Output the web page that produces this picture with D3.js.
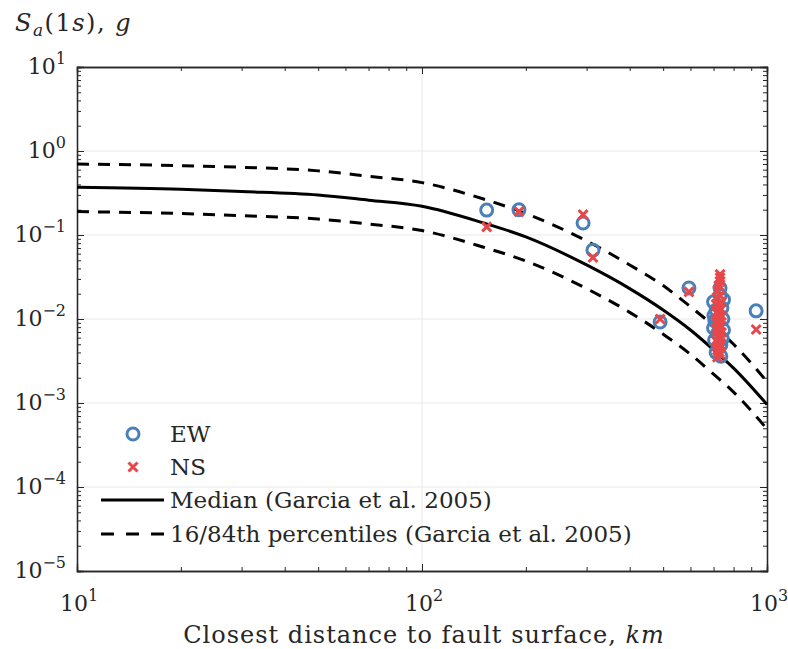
<!DOCTYPE html>
<html>
<head>
<meta charset="utf-8">
<script src="https://cdn.jsdelivr.net/npm/d3@7"></script>
<style>
  body { margin: 0; background: #fff; }
  text { font-family: "DejaVu Serif", serif; fill: #262626; }
</style>
</head>
<body>
<script>
// distances (km) at which the Garcia et al. 2005 curves were read
const curveDist = [10, 20, 30, 50, 70, 100, 150, 200, 300, 400, 500, 600, 700, 800, 1000];
const medianSa  = [0.37, 0.35, 0.33, 0.30, 0.26, 0.22, 0.14, 0.095, 0.044, 0.023, 0.0128, 0.0074, 0.0043, 0.0026, 0.00096];
const p84Sa     = [0.70, 0.67, 0.64, 0.58, 0.50, 0.42, 0.27, 0.18, 0.085, 0.044, 0.025, 0.014, 0.0083, 0.005, 0.0018];
const p16Sa     = [0.19, 0.18, 0.17, 0.155, 0.135, 0.113, 0.072, 0.049, 0.023, 0.012, 0.0066, 0.0038, 0.0022, 0.00135, 0.00049];

// recorded stations: [distance km, Sa g]
const ewData = [
  [154, 0.198], [191, 0.20], [293, 0.139], [313, 0.066], [490, 0.0092], [594, 0.0234], [930, 0.0125],
  [731, 0.0234], [700, 0.016], [748, 0.017], [702, 0.011], [745, 0.010], [700, 0.0078], [748, 0.0074],
  [705, 0.0056], [735, 0.0049], [712, 0.0040], [735, 0.0036], [720, 0.0068], [731, 0.019], [712, 0.0128],
  [740, 0.0135], [706, 0.0095], [742, 0.0058]
];
const nsData = [
  [154, 0.125], [191, 0.19], [293, 0.175], [313, 0.054], [490, 0.010], [594, 0.021], [930, 0.0075],
  [731, 0.034], [731, 0.031], [731, 0.028], [720, 0.022], [731, 0.019], [712, 0.015], [735, 0.013],
  [720, 0.0115], [731, 0.0102], [712, 0.0092], [735, 0.0083], [720, 0.0072], [731, 0.0063], [712, 0.0055],
  [735, 0.0049], [720, 0.0043], [731, 0.0038], [716, 0.018], [738, 0.016], [725, 0.025], [716, 0.012],
  [738, 0.011], [725, 0.0098], [716, 0.0078], [738, 0.0069], [725, 0.0060], [716, 0.0047], [728, 0.0040],
  [724, 0.0140], [726, 0.0088], [722, 0.0052], [718, 0.0035]
];

const xMajor = [10, 100, 1000];
const yMajor = [1e-5, 1e-4, 1e-3, 1e-2, 1e-1, 1, 10];

const W = 788, H = 649;
const L = 77, R = 767, T = 67, B = 571;
const blue = "#4a80b8", red = "#e8474a";

const svg = d3.select("body").append("svg").attr("width", W).attr("height", H);

const x = d3.scaleLog().domain([10, 1000]).range([L, R]);
const y = d3.scaleLog().domain([1e-5, 10]).range([B, T]);

const minorX = x.ticks().filter(v => !xMajor.includes(v));
const minorY = y.ticks().filter(v => !yMajor.some(m => Math.abs(m - v) / v < 1e-9));

// grid
svg.append("g").selectAll("line").data(xMajor.slice(1, -1)).join("line")
  .attr("x1", d => x(d)).attr("x2", d => x(d)).attr("y1", T).attr("y2", B)
  .attr("stroke", "#e8e8e8").attr("stroke-width", 1);
svg.append("g").selectAll("line").data(yMajor.slice(1, -1)).join("line")
  .attr("y1", d => y(d)).attr("y2", d => y(d)).attr("x1", L).attr("x2", R)
  .attr("stroke", "#e8e8e8").attr("stroke-width", 1);

// axes with inward ticks on all sides
function drawAxis(axisFn, scale, transform, major, minor) {
  const g1 = svg.append("g").attr("transform", transform)
    .call(axisFn(scale).tickValues(major).tickSize(-7).tickFormat(""));
  const g2 = svg.append("g").attr("transform", transform)
    .call(axisFn(scale).tickValues(minor).tickSize(-4).tickFormat(""));
  for (let g of [g1, g2]) {
    g.select(".domain").attr("stroke", "#262626").attr("stroke-width", 1.3);
    g.selectAll(".tick line").attr("stroke", "#262626").attr("stroke-width", 1);
  }
}
drawAxis(d3.axisBottom, x, `translate(0,${B})`, xMajor, minorX);
drawAxis(d3.axisTop, x, `translate(0,${T})`, xMajor, minorX);
drawAxis(d3.axisLeft, y, `translate(${L},0)`, yMajor, minorY);
drawAxis(d3.axisRight, y, `translate(${R},0)`, yMajor, minorY);

// tick labels 10^k
function powLabel(sel, k) {
  sel.append("tspan").text("10");
  sel.append("tspan").text(String(k).replace("-", "\u2212"))
    .attr("font-size", 16).attr("dy", -10);
}
svg.append("g").selectAll("text").data(xMajor).join("text")
  .attr("x", d => x(d) + 2).attr("y", B + 40)
  .attr("text-anchor", "middle").attr("font-size", 22)
  .each(function(d) { powLabel(d3.select(this), Math.round(Math.log10(d))); });
svg.append("g").selectAll("text").data(yMajor).join("text")
  .attr("x", L - 11).attr("y", d => y(d) + 7)
  .attr("text-anchor", "end").attr("font-size", 22)
  .each(function(d) { powLabel(d3.select(this), Math.round(Math.log10(d))); });

// axis titles
const xt = svg.append("text").attr("x", (L + R) / 2 + 2).attr("y", 643)
  .attr("text-anchor", "middle").attr("font-size", 24).attr("letter-spacing", 1);
xt.append("tspan").text("Closest distance to fault surface, ");
xt.append("tspan").text("km").attr("font-style", "italic");

const yt = svg.append("text").attr("x", 15).attr("y", 31).attr("font-size", 24).attr("letter-spacing", 1.5);
yt.append("tspan").text("S").attr("font-style", "italic");
yt.append("tspan").text("a").attr("font-style", "italic").attr("font-size", 17).attr("dy", 5);
yt.append("tspan").text("(1").attr("dy", -5);
yt.append("tspan").text("s").attr("font-style", "italic");
yt.append("tspan").text("), ");
yt.append("tspan").text("g").attr("font-style", "italic");

// curves
const line = d3.line().x(d => x(d[0])).y(d => y(d[1])).curve(d3.curveMonotoneX);
const plot = svg.append("g");
const curves = [
  { vals: p84Sa, dash: "12,9" },
  { vals: p16Sa, dash: "12,9" },
  { vals: medianSa, dash: null }
];
for (let c of curves) {
  const p = plot.append("path")
    .datum(curveDist.map((d, i) => [d, c.vals[i]]))
    .attr("d", line).attr("fill", "none")
    .attr("stroke", "#000").attr("stroke-width", 3);
  if (c.dash) p.attr("stroke-dasharray", c.dash);
}

// markers
function crossPath(cx, cy, s) {
  return `M${cx - s},${cy - s}L${cx + s},${cy + s}M${cx - s},${cy + s}L${cx + s},${cy - s}`;
}
plot.append("g").selectAll("circle").data(ewData).join("circle")
  .attr("cx", d => x(d[0])).attr("cy", d => y(d[1])).attr("r", 6)
  .attr("fill", "none").attr("stroke", blue).attr("stroke-width", 3);
plot.append("g").selectAll("path").data(nsData).join("path")
  .attr("d", d => crossPath(x(d[0]), y(d[1]), 4.5))
  .attr("stroke", red).attr("stroke-width", 3);

// legend
const rows = [434, 467, 500, 534];
const lg = svg.append("g");
lg.append("circle").attr("cx", 133).attr("cy", rows[0]).attr("r", 6)
  .attr("fill", "none").attr("stroke", blue).attr("stroke-width", 3);
lg.append("path").attr("d", crossPath(133, rows[1], 4.5)).attr("stroke", red).attr("stroke-width", 3);
lg.append("line").attr("x1", 101).attr("x2", 164).attr("y1", rows[2]).attr("y2", rows[2])
  .attr("stroke", "#000").attr("stroke-width", 3);
lg.append("line").attr("x1", 101).attr("x2", 164).attr("y1", rows[3]).attr("y2", rows[3])
  .attr("stroke", "#000").attr("stroke-width", 3).attr("stroke-dasharray", "13,12");
const labels = ["EW", "NS", "Median (Garcia et al. 2005)", "16/84th percentiles (Garcia et al. 2005)"];
lg.selectAll("text").data(labels).join("text")
  .attr("x", 170).attr("y", (d, i) => rows[i] + 8)
  .attr("font-size", 23).text(d => d);
</script>
</body>
</html>
